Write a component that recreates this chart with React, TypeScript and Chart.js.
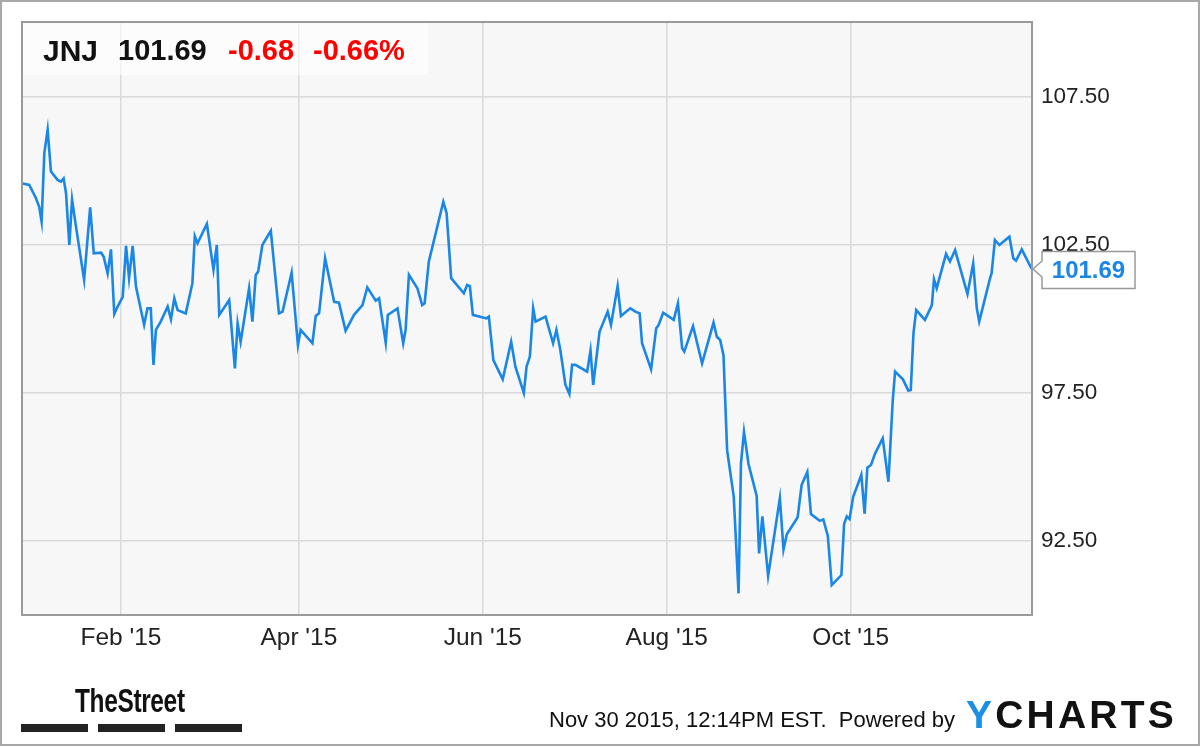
import React, { useEffect, useRef } from "react";
import { Chart, registerables } from "chart.js";

Chart.register(...registerables);

// Day offsets from 2015-01-01 (negative = late Dec 2014)
const tradeDays = [
  -1.6, 0.6, 2.8, 3.9, 4.7, 5.6, 6.7, 7.8, 10.0, 11.1, 12.0, 12.8, 13.9, 14.8, 16.1, 18.8, 20.8, 22.0,
  24.4, 25.3, 26.6, 27.7, 28.8, 29.9, 31.6, 32.7, 33.7, 34.9, 36.0, 38.7, 39.8, 40.9, 41.8, 42.6, 44.2,
  46.5, 47.6, 48.7, 49.8, 52.5, 54.7, 55.5, 56.4, 59.5, 61.7, 62.8, 63.6, 66.9, 68.8, 69.7, 70.7, 73.5,
  74.6, 75.7, 76.5, 77.9, 80.7, 83.4, 84.6, 87.6, 89.7, 90.6, 94.5, 95.6, 96.7, 98.7, 101.7, 103.3,
  105.5, 108.3, 111.1, 112.7, 115.5, 116.6, 118.8, 119.5, 122.7, 124.6, 125.4, 126.5, 129.3, 130.9,
  131.7, 133.1, 137.9, 139.0, 140.5, 144.7, 145.8, 146.7, 147.7, 152.2, 153.0, 154.5, 157.6, 160.4,
  161.8, 164.6, 165.5, 166.6, 167.7, 168.5, 171.8, 174.3, 175.4, 176.7, 178.4, 179.7, 180.6, 181.7,
  185.6, 186.7, 187.6, 189.7, 192.4, 193.5, 195.7, 196.8, 199.9, 201.6, 203.0, 203.8, 206.8, 208.5,
  209.3, 210.8, 214.3, 215.7, 217.1, 217.8, 220.7, 223.7, 227.5, 228.6, 229.7, 230.8, 232.0, 234.2,
  235.8, 236.6, 237.6, 239.1, 241.8, 242.6, 243.7, 245.6, 249.5, 250.7, 251.8, 255.4, 256.7, 258.6,
  259.8, 262.7, 263.9, 265.4, 266.7, 269.9, 270.8, 271.7, 272.6, 273.8, 276.5, 277.6, 278.5, 279.7,
  281.1, 283.6, 285.5, 286.9, 287.7, 290.3, 292.1, 292.9, 293.8, 294.7, 297.6, 299.9, 300.6, 301.5,
  304.6, 305.9, 307.6, 311.7, 313.6, 314.8, 315.6, 319.2, 319.7, 320.8, 322.3, 325.6, 326.9, 327.8,
  329.7, 333.0,
];

const closePrices = [
  104.58, 104.53, 104.09, 103.79, 103.29, 105.6, 106.39, 104.98, 104.7, 104.64, 104.75, 104.25, 102.5,
  104.04, 103.12, 101.32, 103.77, 102.22, 102.24, 102.1, 101.54, 102.35, 100.17, 100.42, 100.75, 102.47,
  101.38, 102.47, 101.09, 99.8, 100.36, 100.36, 98.45, 99.63, 99.91, 100.42, 99.99, 100.7, 100.3, 100.19,
  101.21, 102.8, 102.56, 103.21, 101.66, 102.5, 100.14, 100.64, 98.33, 99.85, 99.23, 101.04, 99.91,
  101.49, 101.6, 102.5, 102.98, 100.19, 100.25, 101.56, 99.12, 99.63, 99.18, 100.1, 100.19, 102.05,
  100.58, 100.55, 99.6, 100.14, 100.47, 101.07, 100.62, 100.7, 99.2, 100.14, 100.36, 99.18, 99.63,
  101.49, 101.04, 100.47, 100.53, 101.94, 103.96, 103.57, 101.38, 100.87, 101.15, 101.11, 100.14,
  100.02, 100.08, 98.61, 97.96, 99.23, 98.39, 97.5, 98.39, 98.73, 100.36, 99.91, 100.08, 99.18, 99.63,
  98.95, 97.77, 97.47, 98.45, 98.45, 98.22, 98.93, 97.77, 99.57, 100.25, 99.8, 101.11, 100.1, 100.36,
  100.25, 100.19, 99.18, 98.3, 99.69, 99.8, 100.21, 99.97, 100.53, 99.01, 98.9, 99.76, 98.5, 99.88,
  99.4, 99.29, 98.78, 95.57, 94.0, 90.73, 95.12, 96.19, 95.1, 94.02, 92.08, 93.33, 91.32, 93.94, 92.21,
  92.73, 93.3, 94.39, 94.83, 93.41, 93.18, 93.23, 92.67, 91.01, 91.35, 93.08, 93.33, 93.24, 93.99,
  94.73, 93.42, 94.98, 95.07, 95.46, 95.97, 94.5, 97.21, 98.22, 97.96, 97.58, 97.6, 99.52, 100.3, 99.97,
  100.47, 101.34, 101.04, 102.2, 101.94, 102.33, 100.84, 101.88, 100.36, 99.91, 101.38, 101.54, 102.67,
  102.5, 102.78, 102.05, 101.97, 102.35, 101.69,
];

const xTickDays = [31, 90, 151, 212, 273];
const xTickLabels = ["Feb '15", "Apr '15", "Jun '15", "Aug '15", "Oct '15"];
const yTickValues = [92.5, 97.5, 102.5, 107.5];

const ticker = "JNJ";
const lastPrice = "101.69";
const change = "-0.68";
const changePct = "-0.66%";
const stamp = "Nov 30 2015, 12:14PM EST.\u00a0 Powered by";

const FONT = "'Liberation Sans', Arial, Helvetica, sans-serif";
const BLUE = "#1a86e6";

const framePlugin = {
  id: "frame",
  beforeDraw(chart: any) {
    const { ctx, chartArea: a } = chart;
    ctx.save();
    ctx.fillStyle = "#f7f7f7";
    ctx.fillRect(a.left, a.top, a.right - a.left, a.bottom - a.top);
    ctx.restore();
  },
  afterDraw(chart: any) {
    const { ctx, chartArea: a } = chart;
    ctx.save();
    ctx.strokeStyle = "#9a9a9a";
    ctx.lineWidth = 2;
    ctx.strokeRect(a.left, a.top - 1, a.right - a.left, a.bottom - a.top + 1);
    // last value callout
    const ys = chart.scales.y;
    const lastVal = closePrices[closePrices.length - 1];
    const cy = ys.getPixelForValue(lastVal);
    const tipX = a.right + 1;
    const bl = a.right + 10;
    const bw = 93;
    const bh = 37;
    const top = cy - bh / 2 + 1;
    ctx.beginPath();
    ctx.moveTo(bl, top);
    ctx.lineTo(bl + bw, top);
    ctx.lineTo(bl + bw, top + bh);
    ctx.lineTo(bl, top + bh);
    ctx.lineTo(bl, cy + 8);
    ctx.lineTo(tipX, cy);
    ctx.lineTo(bl, cy - 8);
    ctx.closePath();
    ctx.fillStyle = "#ffffff";
    ctx.fill();
    ctx.strokeStyle = "#999999";
    ctx.lineWidth = 1.5;
    ctx.stroke();
    ctx.fillStyle = BLUE;
    ctx.font = `bold 24px ${FONT}`;
    ctx.textAlign = "center";
    ctx.textBaseline = "middle";
    ctx.fillText(lastVal.toFixed(2), bl + bw / 2, top + bh / 2 + 1);
    ctx.restore();
  },
};

export default function App() {
  const canvasRef = useRef<HTMLCanvasElement | null>(null);

  useEffect(() => {
    document.body.style.margin = "0";
    const canvas = canvasRef.current;
    if (!canvas) return;
    const chart = new Chart(canvas, {
      type: "line",
      data: {
        datasets: [
          {
            data: tradeDays.map((d, i) => ({ x: d, y: closePrices[i] })),
            borderColor: BLUE,
            borderWidth: 2.6,
            pointRadius: 0,
            tension: 0,
            fill: false,
          },
        ],
      },
      options: {
        animation: false,
        responsive: false,
        devicePixelRatio: 1,
        parsing: false as any,
        layout: { padding: { left: 22, top: 23, right: 0, bottom: 92 } },
        plugins: { legend: { display: false }, tooltip: { enabled: false } },
        scales: {
          x: {
            type: "linear",
            min: -1.8,
            max: 333.1,
            afterFit: (s: any) => {
              s.height = 40;
            },
            afterBuildTicks: (s: any) => {
              s.ticks = xTickDays.map((v) => ({ value: v }));
            },
            grid: { color: "#dadada", lineWidth: 1.5, drawTicks: false },
            border: { display: false },
            ticks: {
              padding: 9,
              color: "#222",
              font: { family: FONT, size: 24.5 },
              maxRotation: 0,
              autoSkip: false,
              callback: (v: any) => {
                const i = xTickDays.indexOf(Number(v));
                return i >= 0 ? xTickLabels[i] : "";
              },
            },
          },
          y: {
            type: "linear",
            position: "right",
            min: 90,
            max: 110,
            afterFit: (s: any) => {
              s.width = 168;
            },
            afterBuildTicks: (s: any) => {
              s.ticks = yTickValues.map((v) => ({ value: v }));
            },
            grid: { color: "#dadada", lineWidth: 1.5, drawTicks: false },
            border: { display: false },
            ticks: {
              padding: 9,
              color: "#222",
              font: { family: FONT, size: 22.5 },
              callback: (v: any) => Number(v).toFixed(2),
            },
          },
        },
      },
      plugins: [framePlugin],
    });
    return () => chart.destroy();
  }, []);

  const abs = (left: number, top: number, extra: React.CSSProperties = {}): React.CSSProperties => ({
    position: "absolute",
    left,
    top,
    lineHeight: 1,
    whiteSpace: "nowrap",
    fontFamily: FONT,
    ...extra,
  });

  return (
    <div style={{ position: "absolute", left: 0, top: 0, width: 1200, height: 747, background: "#fff", overflow: "hidden" }}>
      <canvas ref={canvasRef} width={1200} height={747} style={{ position: "absolute", left: 0, top: 0, width: 1200, height: 747 }} />
      <div style={{ position: "absolute", left: 23, top: 23, width: 405, height: 52, background: "rgba(255,255,255,0.6)" }} />
      <span style={abs(43, 35.5, { fontSize: 30, fontWeight: "bold", color: "#111" })}>{ticker}</span>
      <span style={abs(118, 35.5, { fontSize: 29, fontWeight: "bold", color: "#111" })}>{lastPrice}</span>
      <span style={abs(228, 35.5, { fontSize: 29, fontWeight: "bold", color: "#f00" })}>{change}</span>
      <span style={abs(313, 35.5, { fontSize: 29, fontWeight: "bold", color: "#f00" })}>{changePct}</span>

      <span style={abs(75, 683, { fontSize: 34, fontWeight: "bold", color: "#111", transform: "scaleX(0.72)", transformOrigin: "left top", letterSpacing: -0.5 })}>TheStreet</span>
      <div style={{ position: "absolute", left: 21, top: 724, width: 67, height: 8, background: "#222" }} />
      <div style={{ position: "absolute", left: 98, top: 724, width: 67, height: 8, background: "#222" }} />
      <div style={{ position: "absolute", left: 175, top: 724, width: 67, height: 8, background: "#222" }} />

      <span style={abs(549, 708.5, { fontSize: 22, color: "#111" })}>{stamp}</span>
      <span style={abs(966, 695, { fontSize: 39, fontWeight: "bold", color: "#111", letterSpacing: 3.2 })}>
        <span style={{ color: "#1a8fe3" }}>Y</span>CHARTS
      </span>

      <div style={{ position: "absolute", left: 0, top: 0, width: 1200, height: 746, boxSizing: "border-box", border: "2px solid #a8a8a8", pointerEvents: "none" }} />
    </div>
  );
}
